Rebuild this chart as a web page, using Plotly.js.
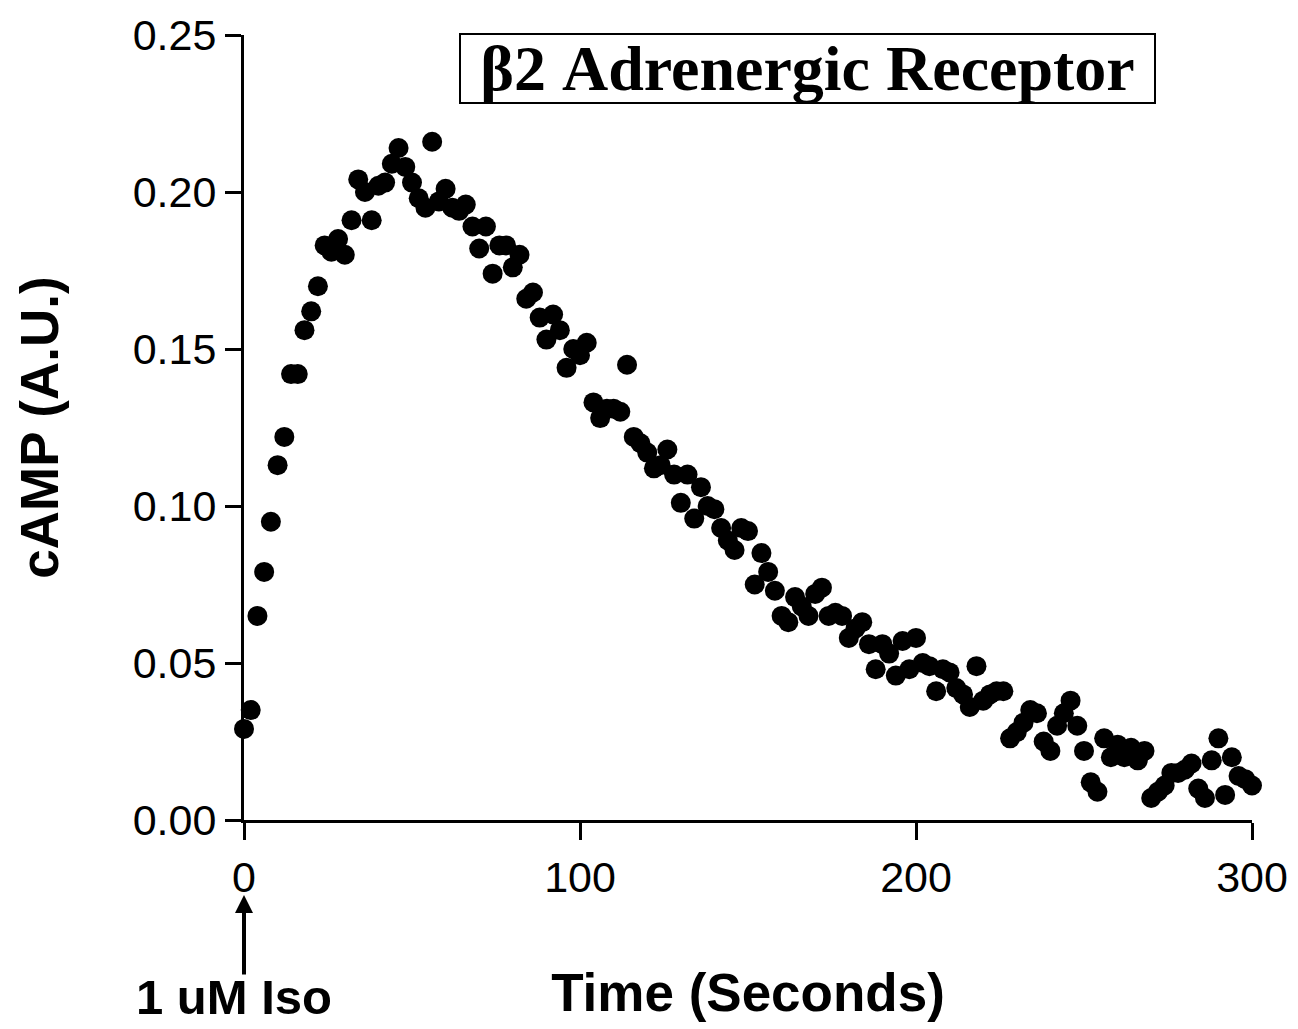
<!DOCTYPE html>
<html>
<head>
<meta charset="utf-8">
<script src="https://cdn.plot.ly/plotly-3.0.1.min.js"></script>
<style>
html, body { margin: 0; padding: 0; background: #fff; }
#chart { width: 1298px; height: 1029px; }
</style>
</head>
<body>
<div id="chart"></div>
<script>
const timeSeconds = [
  0, 2, 4, 6, 8, 10, 12, 14, 16, 18, 20, 22, 24, 26, 28, 30, 32, 34, 36, 38,
  40, 42, 44, 46, 48, 50, 52, 54, 56, 58, 60, 62, 64, 66, 68, 70, 72, 74, 76, 78,
  80, 82, 84, 86, 88, 90, 92, 94, 96, 98, 100, 102, 104, 106, 108, 110, 112, 114, 116, 118,
  120, 122, 124, 126, 128, 130, 132, 134, 136, 138, 140, 142, 144, 146, 148, 150, 152, 154, 156, 158,
  160, 162, 164, 166, 168, 170, 172, 174, 176, 178, 180, 182, 184, 186, 188, 190, 192, 194, 196, 198,
  200, 202, 204, 206, 208, 210, 212, 214, 216, 218, 220, 222, 224, 226, 228, 230, 232, 234, 236, 238,
  240, 242, 244, 246, 248, 250, 252, 254, 256, 258, 260, 262, 264, 266, 268, 270, 272, 274, 276, 278,
  280, 282, 284, 286, 288, 290, 292, 294, 296, 298, 300
];
const cAMP = [
  0.029, 0.035, 0.065, 0.079, 0.095, 0.113, 0.122, 0.142, 0.142, 0.156,
  0.162, 0.170, 0.183, 0.181, 0.185, 0.180, 0.191, 0.204, 0.200, 0.191,
  0.202, 0.203, 0.209, 0.214, 0.208, 0.203, 0.198, 0.195, 0.216, 0.197,
  0.201, 0.195, 0.194, 0.196, 0.189, 0.182, 0.189, 0.174, 0.183, 0.183,
  0.176, 0.180, 0.166, 0.168, 0.160, 0.153, 0.161, 0.156, 0.144, 0.150,
  0.148, 0.152, 0.133, 0.128, 0.131, 0.131, 0.130, 0.145, 0.122, 0.120,
  0.117, 0.112, 0.113, 0.118, 0.110, 0.101, 0.110, 0.096, 0.106, 0.100,
  0.099, 0.093, 0.089, 0.086, 0.093, 0.092, 0.075, 0.085, 0.079, 0.073,
  0.065, 0.063, 0.071, 0.068, 0.065, 0.072, 0.074, 0.065, 0.066, 0.065,
  0.058, 0.061, 0.063, 0.056, 0.048, 0.056, 0.053, 0.046, 0.057, 0.048,
  0.058, 0.050, 0.049, 0.041, 0.048, 0.047, 0.042, 0.040, 0.036, 0.049,
  0.038, 0.040, 0.041, 0.041, 0.026, 0.028, 0.031, 0.035, 0.034, 0.025,
  0.022, 0.030, 0.034, 0.038, 0.030, 0.022, 0.012, 0.009, 0.026, 0.020,
  0.024, 0.020, 0.023, 0.019, 0.022, 0.007, 0.009, 0.011, 0.015, 0.015,
  0.016, 0.018, 0.010, 0.007, 0.019, 0.026, 0.008, 0.020, 0.014, 0.013,
  0.011
];
const xTickValues = [0, 100, 200, 300];
const yTickValues = [0, 0.05, 0.10, 0.15, 0.20, 0.25];
const chartTitle = "β2 Adrenergic Receptor";
const xTitle = "Time (Seconds)";
const yTitle = "cAMP (A.U.)";
const stimulusLabel = "1 uM Iso";

const sans = "Liberation Sans, Arial, Helvetica, sans-serif";
const serif = "Liberation Serif, Times New Roman, serif";

const trace = {
  x: timeSeconds,
  y: cAMP,
  type: "scatter",
  mode: "markers",
  marker: { color: "#000", size: 20, line: { width: 0 } },
  cliponaxis: false,
  hoverinfo: "x+y"
};

const layout = {
  width: 1298,
  height: 1029,
  paper_bgcolor: "#fff",
  plot_bgcolor: "#fff",
  showlegend: false,
  margin: { l: 244, r: 46, t: 35, b: 209, pad: 0 },
  xaxis: {
    range: [0, 300],
    tickvals: xTickValues,
    ticktext: xTickValues.map(String),
    showgrid: false,
    zeroline: false,
    showline: true,
    linecolor: "#000",
    linewidth: 3,
    ticks: "outside",
    ticklen: 17,
    tickwidth: 3,
    tickcolor: "#000",
    tickfont: { family: sans, size: 43, color: "#000" },
    title: { text: "<b>" + xTitle + "</b>", font: { family: sans, size: 53, color: "#000" }, standoff: 75 },
    fixedrange: true
  },
  yaxis: {
    range: [0, 0.25],
    tickvals: yTickValues,
    ticktext: yTickValues.map(v => v.toFixed(2)),
    showgrid: false,
    zeroline: false,
    showline: true,
    linecolor: "#000",
    linewidth: 3,
    ticks: "outside",
    ticklen: 16,
    tickwidth: 3,
    tickcolor: "#000",
    tickfont: { family: sans, size: 43, color: "#000" },
    title: { text: "<b>" + yTitle + "</b>", font: { family: sans, size: 53, color: "#000" }, standoff: 58 },
    fixedrange: true
  },
  annotations: [
    {
      xref: "paper", yref: "paper",
      x: 0.5595, y: 0.9572,
      xanchor: "center", yanchor: "middle",
      text: "<b>" + chartTitle + "</b>",
      showarrow: false,
      font: { family: serif, size: 64, color: "#000" },
      width: 693, height: 67,
      align: "center", valign: "middle",
      bordercolor: "#000", borderwidth: 2, borderpad: 0,
      bgcolor: "#fff"
    },
    {
      xref: "x", yref: "paper",
      x: 0, y: -0.0955,
      axref: "pixel", ayref: "pixel",
      ax: 0, ay: 81,
      text: "",
      showarrow: true,
      arrowhead: 2,
      arrowsize: 0.9,
      arrowwidth: 4,
      arrowcolor: "#000",
      standoff: 0
    },
    {
      xref: "paper", yref: "paper",
      x: -0.0095, y: -0.2625,
      xanchor: "center", yanchor: "bottom",
      text: "<b>" + stimulusLabel + "</b>",
      showarrow: false,
      font: { family: sans, size: 49, color: "#000" }
    }
  ]
};

Plotly.newPlot("chart", [trace], layout, { displayModeBar: false, staticPlot: true });
</script>
</body>
</html>
